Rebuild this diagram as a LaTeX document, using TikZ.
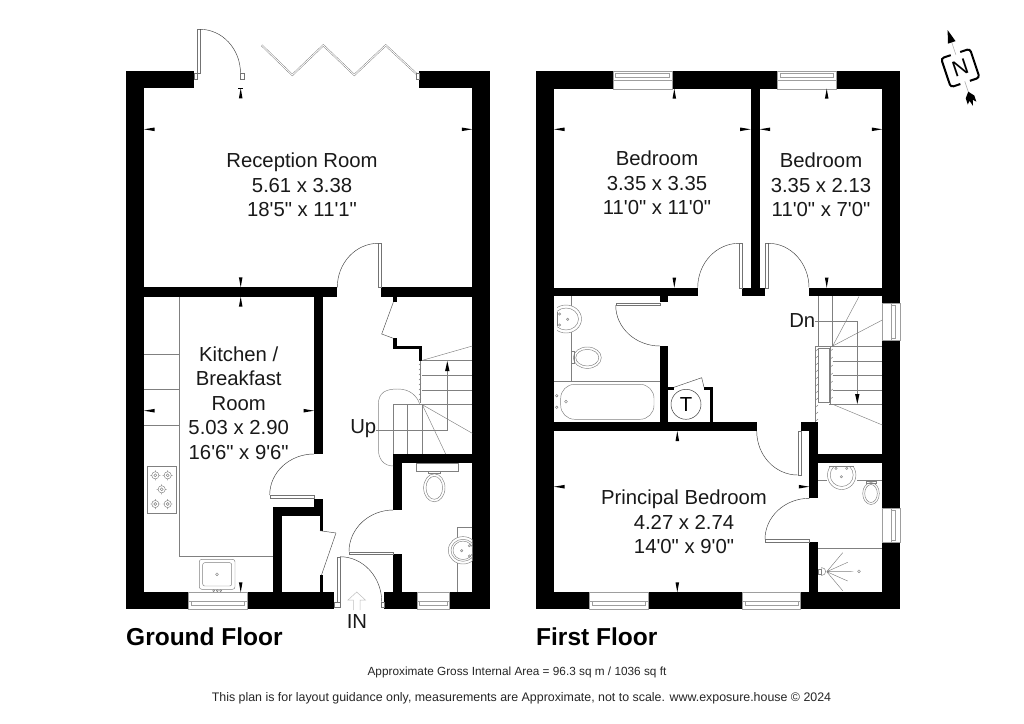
\documentclass[tikz,border=0pt]{standalone}
\usepackage{fontspec}
\setmainfont{Liberation Sans}[Ligatures=TeXOff]
\usetikzlibrary{calc}
\definecolor{fix}{gray}{0.5}
\definecolor{lite}{gray}{0.62}
\tikzset{
  wall/.style={fill=black,draw=none},
  fixt/.style={draw=fix,line width=0.45pt,fill=none},
  glaze/.style={draw=lite,line width=0.4pt,fill=none},
  thin line/.style={draw=black!70,line width=0.45pt},
  doorleaf/.style={draw=black!55,line width=0.35pt,fill=white},
  doorarc/.style={draw=black!75,line width=0.45pt},
  roomlabel/.style={align=center,inner sep=0pt,font=\fontsize{20.3}{24.6}\selectfont,text=black!90},
  title/.style={anchor=west,inner sep=0pt,font=\fontsize{24.5}{28}\selectfont\bfseries},
}
\newcommand\wl[4]{\fill[wall] (#1,#2) rectangle (#3,#4);}
\newcommand\qarc[6]{\draw[doorarc] (#1,#2) .. controls ($(#1,#2)!0.552!(#3,#4)$) and ($(#5,#6)!0.552!(#3,#4)$) .. (#5,#6);}
\newcommand\mkU[2]{\fill (#1,#2) -- ++(-1.8,10) -- ++(3.6,0) -- cycle;}
\newcommand\mkD[2]{\fill (#1,#2) -- ++(-1.8,-10) -- ++(3.6,0) -- cycle;}
\newcommand\mkL[2]{\fill (#1,#2) -- ++(10.5,-1.8) -- ++(0,3.6) -- cycle;}
\newcommand\mkR[2]{\fill (#1,#2) -- ++(-10.5,-1.8) -- ++(0,3.6) -- cycle;}
\newcommand\burner[2]{\draw[fixt] (#1,#2) circle[radius=3.6] (#1,#2) circle[radius=1.5] (#1-5,#2)--(#1-3.6,#2) (#1+3.6,#2)--(#1+5,#2) (#1,#2-5)--(#1,#2-3.6) (#1,#2+3.6)--(#1,#2+5);}
\newcommand\winH[4]{% x1 x2 ytop ybot, horizontal window
  \fill[white] (#1,#3) rectangle (#2,#4);
  \draw[glaze] (#1,#3) rectangle (#2,#4);
}
\begin{document}
\begin{tikzpicture}[x=1pt,y=-1pt]
\useasboundingbox (0,0) rectangle (1024,723);
\fill[white] (0,0) rectangle (1024,723);

%%% GROUND FLOOR walls
\wl{126}{70.7}{194}{88.3}
\wl{419.3}{70.7}{490}{88.3}
\wl{126}{70.7}{144}{609.3}
\wl{472.3}{70.7}{490}{609.3}
\wl{126}{592.3}{334.3}{609.3}
\wl{384.3}{592.3}{490}{609.3}
\wl{144}{287.3}{337.3}{296.5}
\wl{381.3}{287.3}{472.3}{296.5}
\wl{314}{296}{323}{454}
\wl{314}{498.7}{323}{516}
\wl{273}{507.3}{323}{516}
\wl{273}{507.3}{281.8}{592.3}
\wl{320}{516}{323.3}{530.7}
\wl{320}{575}{323.3}{592.3}
\wl{393.3}{454}{472.3}{463}
\wl{393.3}{454}{402}{510}
\wl{393.3}{554}{402}{592.3}
% understairs cupboard
\wl{393.3}{296}{396.7}{302}
\wl{393.3}{338}{396.7}{349}
\wl{393.3}{346}{422.3}{349}
\wl{419.2}{346}{422.3}{360.5}
\draw[thin line] (393.3,302.3) -- (381.7,334) -- (393.3,338.3);
\draw[thin line] (336,533) -- (321.5,575);
\draw[thin line] (320,530.7) -- (336,533);

% ground windows
\winH{188.3}{246.7}{592.3}{609.3}
\draw[glaze] (188.3,601) -- (246.7,601) (191,601) rectangle (244,605);
\winH{416.7}{449}{592.3}{609.3}
\draw[glaze] (416.7,601) -- (449,601) (419,601) rectangle (447,605);

% kitchen fittings
\draw[fixt] (144,354.7) -- (179.3,354.7) (144,389.7) -- (179.3,389.7) (144,425) -- (179.3,425);
\draw[fixt] (179.3,296.5) -- (179.3,556.7) -- (273,556.7);
\draw[fixt] (147,466) rectangle (176.7,513.3);
\burner{155.3}{475.3}\burner{167.7}{475.3}\burner{161.7}{489.3}\burner{155.3}{504}\burner{167.7}{504}
\draw[fixt,rounded corners=2.5] (199.3,559.3) rectangle (235,589.3);
\draw[fixt,rounded corners=2] (202.7,562.7) rectangle (231.7,586);
\draw[fixt] (217,574.3) circle[radius=1.4];
\draw[fixt] (213.7,590.7) circle[radius=1] (217.3,590.7) circle[radius=1] (220.7,590.7) circle[radius=1];

% reception garden door
\draw[doorleaf] (194,73.3) rectangle (197.3,79.3);
\draw[doorleaf] (196.7,29.3) rectangle (200,73.3);
\qarc{200}{29.3}{240.5}{29.3}{240.5}{73.3}
\draw[doorleaf] (240.3,73.3) rectangle (243.7,79.3);
\draw (238,88.3) -- (243.4,88.3);
% bifold doors
\draw[line width=1.7pt,draw=black!55,line join=miter] (261.7,45.3) -- (292.3,75) -- (323.3,45.3) -- (354.3,75) -- (385.7,45.3) -- (417.7,75);
\draw[line width=0.9pt,draw=white,line join=miter] (261.7,45.3) -- (292.3,75) -- (323.3,45.3) -- (354.3,75) -- (385.7,45.3) -- (417.7,75);
\draw[doorleaf] (416.3,73.3) rectangle (419.3,79.3);

% ground doors
\draw[doorleaf] (378.3,243.3) rectangle (381.3,287.3);
\qarc{378.3}{243.3}{337.3}{243.3}{337.3}{287.3}
\draw[doorleaf] (269.7,495) rectangle (314,498.3);
\qarc{314}{454}{269.7}{454}{269.7}{495}
\draw[doorleaf] (349,551.7) rectangle (393.3,554);
\qarc{393.3}{510}{349}{510}{349}{551.7}
\draw[doorleaf] (337.3,556.7) rectangle (340,601.7);
\draw[doorleaf] (334.3,601.7) rectangle (340,606.7);
\qarc{340}{556.7}{381.7}{556.7}{381.7}{601.7}
\draw[doorleaf] (381,601.7) rectangle (384.3,606.7);

% ground stairs
\draw[fixt] (421.7,360.5) -- (472.3,346);
\draw[fixt] (422.3,360.7) -- (472.3,360.7) (422.3,375) -- (472.3,375) (422.3,390) -- (472.3,390) (393.3,404.7) -- (472.3,404.7);
\draw[fixt] (393.3,404.7) -- (393.3,454) (407.7,404.7) -- (407.7,454) (422.3,404.7) -- (422.3,454);
\draw[fixt] (422.3,404.7) -- (472.3,433.3);
\draw[fixt] (422.3,404.7) -- (445.7,454);
\draw[fixt] (376,430.7) -- (447.3,430.7) -- (447.3,368);
\fill (447.3,361) -- ++(-2.2,10) -- ++(4.4,0) -- cycle;
\draw[fixt] (393.3,466) .. controls (383,466) and (378.3,458) .. (378.3,449) -- (378.3,405) .. controls (378.3,392) and (386,389) .. (398,389) .. controls (410,389) and (417,396) .. (419.7,404);
\foreach \yy in {364,369,374,379,384,389,394,399}{\draw[fixt] (419,\yy+1) -- (421,\yy-1);}
\draw[fixt] (420,361) -- (420,403);
% WC fittings
\draw[fixt] (416.7,463) rectangle (458.3,471.7);
\draw[fixt] (428.3,471.7) -- (428.3,473.5) -- (440,473.5) -- (440,471.7);
\draw[fixt] (434.3,487.8) ellipse[x radius=10.7,y radius=14] (434.3,487.8) ellipse[x radius=8.3,y radius=11.5];
\draw[fixt] (472.3,527.3) -- (457.3,527.3) -- (457.3,592.3);
\begin{scope}
\clip (440,530) rectangle (472.3,570);
\fill[white] (463,550.3) ellipse[x radius=14.7,y radius=13.7];
\draw[fixt] (463,550.3) ellipse[x radius=14.7,y radius=13.7] (463,550.3) ellipse[x radius=12,y radius=11] (463,550.3) ellipse[x radius=10,y radius=9.2];
\end{scope}
\draw[fixt] (469.3,545.7) circle[radius=1.2] (469.3,556) circle[radius=1.2] (461.7,550.7) circle[radius=1.2];
% IN arrow
\draw[draw=black!25,line width=0.5pt] (353.3,610) -- (353.3,600) -- (348,600) -- (356.7,592) -- (365.4,600) -- (360,600) -- (360,610);

%%% FIRST FLOOR walls
\wl{536}{70.7}{900}{88.7}
\wl{536}{70.7}{554}{609.3}
\wl{882.3}{70.7}{900}{302.7}
\wl{882.3}{340}{900}{507.7}
\wl{882.3}{542.3}{900}{609.3}
\wl{536}{592.3}{900}{609.3}
\wl{750.7}{88}{759.7}{296.3}
\wl{554}{287.7}{697.7}{296.3}
\wl{660}{296}{668.3}{302.3}
\wl{741.7}{287.7}{765.3}{296.3}
\wl{809}{287.7}{882.3}{296.3}
\wl{660}{346}{668.3}{431}
\wl{554}{421.7}{756.7}{431}
\wl{800.7}{422}{818.3}{431}
\wl{809.3}{422}{818.3}{498.3}
\wl{809.3}{454}{882.3}{463}
\wl{809.3}{542.3}{818.3}{592.3}
% cupboard
\wl{668}{387.3}{674}{390}
\wl{704}{387.3}{712.7}{390}
\wl{710}{387.3}{712.7}{421.7}
\draw[thin line] (674,387.3) -- (701.7,377.7) -- (704,387.3);
\draw[black!75,line width=0.5pt] (686,404.3) circle[radius=15];
\node[font=\fontsize{20.3}{24}\selectfont,inner sep=0pt] (tlabel) at (686,404.5) {T};

% first floor windows
\winH{612.7}{671.7}{70.7}{88.7}
\draw[glaze] (612.7,80) -- (671.7,80) (615,73) rectangle (669.5,77);
\winH{777.3}{835.7}{70.7}{88.7}
\draw[glaze] (777.3,80) -- (835.7,80) (780,73) rectangle (833.5,77);
\winH{589.3}{648}{592.3}{609.3}
\draw[glaze] (589.3,601) -- (648,601) (592,601) rectangle (645.5,605);
\winH{742}{800.3}{592.3}{609.3}
\draw[glaze] (742,601) -- (800.3,601) (745,601) rectangle (798,605);
\fill[white] (882.3,302.7) rectangle (900,340);
\draw[glaze] (882.3,302.7) rectangle (900,340);
\draw[glaze] (891,302.7) -- (891,340) (891,305) rectangle (895,338);
\fill[white] (882.3,507.7) rectangle (900,542.3);
\draw[glaze] (882.3,507.7) rectangle (900,542.3);
\draw[glaze] (891,507.7) -- (891,542.3) (891,510) rectangle (895,540);

% first floor doors
\draw[doorleaf] (739,243.3) rectangle (742,287.7);
\qarc{739}{243.3}{697.7}{243.3}{697.7}{287.7}
\draw[doorleaf] (765.3,243.3) rectangle (768.3,287.7);
\qarc{768.3}{243.3}{809}{243.3}{809}{287.7}
\draw[doorleaf] (615.7,302.7) rectangle (660,305.3);
\qarc{615.7}{305.3}{615.7}{346}{660}{346}
\draw[doorleaf] (797.7,431) rectangle (800.7,475);
\qarc{756.7}{431}{756.7}{475}{797.7}{475}
\draw[doorleaf] (765,539.3) rectangle (809.3,542.3);
\qarc{809.3}{498.3}{765}{498.3}{765}{539.3}

% bathroom fittings
\draw[fixt] (571.7,296.3) -- (571.7,381) (554,381) -- (660,381);
\draw[fixt,rounded corners=14] (560.7,384.3) rectangle (654,419.3);
\draw[fixt] (556.7,395.7) circle[radius=1.3] (556.7,407.3) circle[radius=1.3] (566,401.7) circle[radius=1.4];
\begin{scope}
\clip (557,300) rectangle (590,340);
\fill[white] (566,319) ellipse[x radius=15.5,y radius=14];
\draw[fixt] (566,319) ellipse[x radius=15.5,y radius=14] (566,319) ellipse[x radius=12.5,y radius=11];
\end{scope}
\draw[fixt] (557,312) -- (557,326);
\draw[fixt] (559.7,314) circle[radius=1.2] (559.7,325) circle[radius=1.2] (567.7,319.3) circle[radius=1.2];
\draw[fixt] (571.7,351.7) rectangle (574.3,363.3);
\draw[fixt] (587.3,357.7) ellipse[x radius=14,y radius=10.7] (587.3,357.7) ellipse[x radius=11.5,y radius=8.3];

% first floor stairs
\draw[fixt] (818.3,296.3) -- (818.3,346) (832.7,296.3) -- (832.7,346);
\draw[fixt] (832.7,346) -- (859,296.5) (832.7,346) -- (882.3,320);
\draw[fixt] (815.3,346) -- (882.3,346) (832.7,361) -- (882.3,361) (832.7,375.7) -- (882.3,375.7) (832.7,390) -- (882.3,390) (829,404.3) -- (882.3,404.3);
\draw[fixt] (832.7,404.3) -- (882.3,425);
\draw[fixt] (815,321) -- (857.3,321) -- (857.3,397);
\fill (857.3,404) -- ++(-2.2,-10) -- ++(4.4,0) -- cycle;
\draw[fixt] (815.3,346) -- (815.3,422);
\draw[fixt] (818.3,348.3) rectangle (829.3,402.7);
\draw[fixt] (830.7,346) -- (830.7,404.3);
\foreach \yy in {350,357,364,371,378,385,392,399,406,413,420}{\draw[fixt] (815.3,\yy+1.5) -- (818,\yy-1);}
\foreach \yy in {350,358,366,374,382,390,398}{\draw[fixt] (830,\yy+1.5) -- (832.7,\yy-1);}

% ensuite fittings
\draw[fixt] (818.3,480.7) -- (826.5,480.7) (857,480.7) -- (882.3,480.7);
\begin{scope}
\clip (820,466) rectangle (865,495);
\fill[white] (841.7,475) ellipse[x radius=14.2,y radius=14.5];
\draw[fixt] (841.7,475) ellipse[x radius=14.2,y radius=14.5] (841.7,475) ellipse[x radius=11.5,y radius=11.5];
\end{scope}
\draw[fixt] (829,466) -- (854,466);
\draw[fixt] (836,468.3) circle[radius=1.2] (846.7,468.3) circle[radius=1.2] (841.3,476.7) circle[radius=1.2];
\draw[fixt] (866,481) rectangle (876.5,483);
\draw[fixt] (871,493.5) ellipse[x radius=8.3,y radius=11] (871,493.5) ellipse[x radius=6.3,y radius=9];
\draw[fixt] (818.3,548.3) -- (882.3,548.3);
\draw[fixt] (818.3,569.5) rectangle (821.5,574);
\draw[fixt] (821.5,567.5) .. controls (827,567.5) and (827,575.5) .. (821.5,575.5) -- cycle;
\draw[fixt] (826.7,571.7) -- (842.7,552.7) (826.7,571.7) -- (847.7,562.3) (826.7,571.7) -- (853.3,571.5) (826.7,571.7) -- (847.7,581) (826.7,571.7) -- (842.7,590.7);
\draw[fixt] (859,571.3) circle[radius=1.4];

%%% dimension markers
\mkU{240.7}{88.3}\mkD{240.7}{287.3}\mkL{144}{129.3}\mkR{472.3}{129.3}
\mkU{240.7}{296.7}\mkD{240.7}{592.3}\mkL{144}{410.7}\mkR{314}{410.7}
\mkU{674.3}{88.7}\mkD{674.3}{287.7}\mkL{554}{129.3}\mkR{750.7}{129.3}
\mkL{759.7}{129.3}\mkR{882.3}{129.3}\mkU{826.7}{88.7}\mkD{826.7}{287.7}
\mkU{677.3}{431}\mkD{677.3}{592.3}\mkL{554}{486.7}\mkR{809.3}{486.7}

%%% labels
\node[roomlabel] (reception) at (302,185) {Reception Room\\5.61 x 3.38\\18'5" x 11'1"};
\node[roomlabel] (kitchen) at (238.7,403) {Kitchen /\\Breakfast\\Room\\5.03 x 2.90\\16'6" x 9'6"};
\node[roomlabel] (bedone) at (657,183) {Bedroom\\3.35 x 3.35\\11'0" x 11'0"};
\node[roomlabel] (bedtwo) at (821,185) {Bedroom\\3.35 x 2.13\\11'0" x 7'0"};
\node[roomlabel] (principal) at (684,522) {Principal Bedroom\\4.27 x 2.74\\14'0" x 9'0"};
\node[roomlabel] (up) at (363.3,429) {Up};
\node[roomlabel] (dn) at (802.3,320.5) {Dn};
\node[roomlabel] (in) at (357,622) {IN};
\node[title] (gf) at (126,637) {Ground Floor};
\node[title] (ff) at (536,637) {First Floor};
\node[inner sep=0pt,font=\fontsize{11.8}{14}\selectfont,text=black!85] (area) at (517,672) {Approximate Gross Internal Area = 96.3 sq m  / 1036 sq ft};
\node[inner sep=0pt,font=\fontsize{12.4}{14}\selectfont,text=black!85] (note) at (521.5,698) {This plan is for layout guidance only, measurements are Approximate, not to scale. www.exposure.house © 2024};

%%% compass
\begin{scope}[shift={(960.3,68)},rotate=18.5]
\draw[draw=black!35,line width=0.5pt] (0,-36) -- (0,30);
\fill[white] (-4.5,-14) rectangle (4.5,14);
\draw[line width=2pt,rounded corners=3] (-5,-15.2) -- (-15.2,-15.2) -- (-15.2,15.2) -- (-5,15.2);
\draw[line width=2pt,rounded corners=3] (5,-15.2) -- (15.2,-15.2) -- (15.2,15.2) -- (5,15.2);
\fill (0,-40) -- (-4,-27) -- (4,-27) -- cycle;
\fill (0,25) -- (4.5,30.5) -- (4.5,37) -- (1.7,34) -- (0,40) -- (-1.7,34) -- (-4.5,37) -- (-4.5,30.5) -- cycle;
\node[rotate=18.5,inner sep=0pt,font=\fontsize{22}{24}\selectfont] (north) at (0,0) {N};
\end{scope}
\end{tikzpicture}
\end{document}
